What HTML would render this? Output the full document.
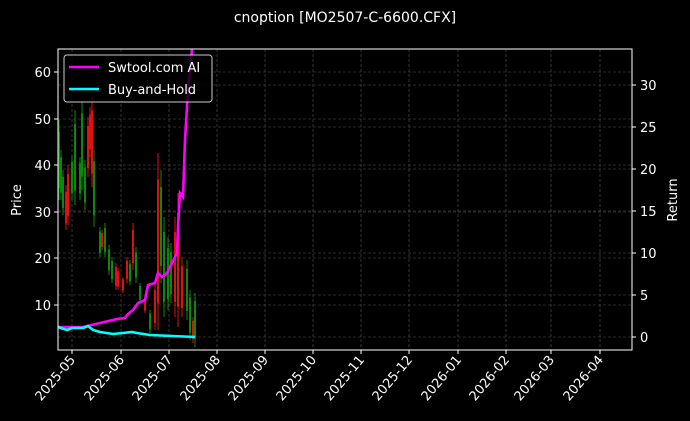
<!DOCTYPE html>
<html><head><style>
html,body{margin:0;padding:0;background:#000;}
svg{display:block;font-family:"DejaVu Sans","Liberation Sans",sans-serif;}
</style></head><body>
<svg width="690" height="421" viewBox="0 0 690 421" xmlns="http://www.w3.org/2000/svg">
<rect width="690" height="421" fill="#000"/>
<text x="345" y="22" fill="#fff" font-size="14" text-anchor="middle">cnoption [MO2507-C-6600.CFX]</text>
<g stroke="#555" stroke-width="0.6" stroke-dasharray="3,2">
<line x1="72" y1="49" x2="72" y2="350"/><line x1="121" y1="49" x2="121" y2="350"/><line x1="169" y1="49" x2="169" y2="350"/><line x1="217" y1="49" x2="217" y2="350"/><line x1="265" y1="49" x2="265" y2="350"/><line x1="313" y1="49" x2="313" y2="350"/><line x1="361" y1="49" x2="361" y2="350"/><line x1="409" y1="49" x2="409" y2="350"/><line x1="458" y1="49" x2="458" y2="350"/><line x1="506" y1="49" x2="506" y2="350"/><line x1="551" y1="49" x2="551" y2="350"/><line x1="600" y1="49" x2="600" y2="350"/>
<line x1="58" y1="72" x2="632" y2="72"/><line x1="58" y1="119" x2="632" y2="119"/><line x1="58" y1="165" x2="632" y2="165"/><line x1="58" y1="212" x2="632" y2="212"/><line x1="58" y1="258" x2="632" y2="258"/><line x1="58" y1="305" x2="632" y2="305"/>
<line x1="58" y1="85" x2="632" y2="85"/><line x1="58" y1="127" x2="632" y2="127"/><line x1="58" y1="169" x2="632" y2="169"/><line x1="58" y1="211" x2="632" y2="211"/><line x1="58" y1="253" x2="632" y2="253"/><line x1="58" y1="295" x2="632" y2="295"/><line x1="58" y1="337" x2="632" y2="337"/>
</g>
<g id="c"></g>
<polyline fill="none" stroke="#ff00ff" stroke-width="2.6" points="58,327 83,327 100,323 117,319 125,318 127,315 133,310 138,303 145,300 148,285 155,283 158,273 162,277 167,273 170,267 175,257 177,253 178,227 180,193 183,197 185,140 188,90 192,49"/>
<polyline fill="none" stroke="#00ffff" stroke-width="2.6" points="58,327 67,330 72,328 83,328 88,326 93,330 100,332 113,334 123,333 132,332 137,333 150,335 195,337"/>
<rect x="58" y="49" width="574" height="301" fill="none" stroke="#fff" stroke-width="1"/>
<g stroke="#fff" stroke-width="1">
<line x1="72" y1="350" x2="72" y2="354"/><line x1="121" y1="350" x2="121" y2="354"/><line x1="169" y1="350" x2="169" y2="354"/><line x1="217" y1="350" x2="217" y2="354"/><line x1="265" y1="350" x2="265" y2="354"/><line x1="313" y1="350" x2="313" y2="354"/><line x1="361" y1="350" x2="361" y2="354"/><line x1="409" y1="350" x2="409" y2="354"/><line x1="458" y1="350" x2="458" y2="354"/><line x1="506" y1="350" x2="506" y2="354"/><line x1="551" y1="350" x2="551" y2="354"/><line x1="600" y1="350" x2="600" y2="354"/>
<line x1="54" y1="72" x2="58" y2="72"/><line x1="54" y1="119" x2="58" y2="119"/><line x1="54" y1="165" x2="58" y2="165"/><line x1="54" y1="212" x2="58" y2="212"/><line x1="54" y1="258" x2="58" y2="258"/><line x1="54" y1="305" x2="58" y2="305"/>
<line x1="632" y1="85" x2="636" y2="85"/><line x1="632" y1="127" x2="636" y2="127"/><line x1="632" y1="169" x2="636" y2="169"/><line x1="632" y1="211" x2="636" y2="211"/><line x1="632" y1="253" x2="636" y2="253"/><line x1="632" y1="295" x2="636" y2="295"/><line x1="632" y1="337" x2="636" y2="337"/>
</g>
<g fill="#fff" font-size="13" text-anchor="end">
<text x="51" y="77">60</text><text x="51" y="124">50</text><text x="51" y="170">40</text><text x="51" y="217">30</text><text x="51" y="263">20</text><text x="51" y="310">10</text>
</g>
<g fill="#fff" font-size="13">
<text x="640" y="90">30</text><text x="640" y="132">25</text><text x="640" y="174">20</text><text x="640" y="216">15</text><text x="640" y="258">10</text><text x="640" y="300">5</text><text x="640" y="342">0</text>
</g>
<text transform="translate(21,200) rotate(-90)" fill="#fff" font-size="13" text-anchor="middle">Price</text>
<text transform="translate(677,200) rotate(-90)" fill="#fff" font-size="13" text-anchor="middle">Return</text>
<g fill="#fff" font-size="13" text-anchor="end">
<text transform="translate(76,360) rotate(-50)">2025-05</text>
<text transform="translate(125,360) rotate(-50)">2025-06</text>
<text transform="translate(173,360) rotate(-50)">2025-07</text>
<text transform="translate(221,360) rotate(-50)">2025-08</text>
<text transform="translate(269,360) rotate(-50)">2025-09</text>
<text transform="translate(317,360) rotate(-50)">2025-10</text>
<text transform="translate(365,360) rotate(-50)">2025-11</text>
<text transform="translate(413,360) rotate(-50)">2025-12</text>
<text transform="translate(462,360) rotate(-50)">2026-01</text>
<text transform="translate(510,360) rotate(-50)">2026-02</text>
<text transform="translate(555,360) rotate(-50)">2026-03</text>
<text transform="translate(604,360) rotate(-50)">2026-04</text>
</g>
<rect x="64" y="55" width="148" height="47" rx="3" fill="#000" fill-opacity="0.8" stroke="#ccc" stroke-width="1"/>
<line x1="69" y1="67" x2="99" y2="67" stroke="#ff00ff" stroke-width="2.6"/>
<line x1="69" y1="89" x2="99" y2="89" stroke="#00ffff" stroke-width="2.6"/>
<text x="108" y="72" fill="#fff" font-size="13">Swtool.com AI</text>
<text x="108" y="94" fill="#fff" font-size="13">Buy-and-Hold</text>
</svg>
<script>
var d=[[59,120,200,'g'],[61,150,200,'g'],[63,170,215,'g'],[66,185,230,'r'],[68,165,225,'r'],[72,155,200,'g'],[75,110,205,'g'],[80,157,200,'g'],[82,100,190,'g'],[85,160,210,'g'],[88,117,177,'r'],[90,107,157,'r'],[92,97,187,'r'],[94,150,227,'g'],[100,227,257,'g'],[102,230,250,'r'],[105,223,257,'g'],[109,245,275,'g'],[112,257,283,'g'],[116,263,290,'r'],[118,268,290,'r'],[123,277,293,'r'],[127,257,283,'r'],[130,260,285,'g'],[133,223,270,'r'],[136,247,283,'g'],[140,283,303,'g'],[145,297,313,'r'],[150,310,333,'g'],[155,283,330,'r'],[158,153,330,'r'],[161,170,283,'g'],[164,217,317,'g'],[168,237,310,'g'],[171,243,303,'g'],[175,217,317,'r'],[178,193,327,'r'],[182,257,317,'r'],[187,260,320,'g'],[190,290,340,'g'],[193,317,343,'r'],[195,293,347,'g']];
var g=document.getElementById('c'),s='';
d.forEach(function(c){var col=c[3]=='g'?'#0a8a0a':'#e01010';var h=c[2]-c[1];
s+='<line x1="'+c[0]+'" y1="'+c[1]+'" x2="'+c[0]+'" y2="'+c[2]+'" stroke="'+col+'" stroke-width="1"/>';
s+='<rect x="'+(c[0]-1)+'" y="'+(c[1]+h*0.15)+'" width="2" height="'+(h*0.7)+'" fill="'+col+'"/>';});
g.innerHTML=s;
</script>
</body></html>
